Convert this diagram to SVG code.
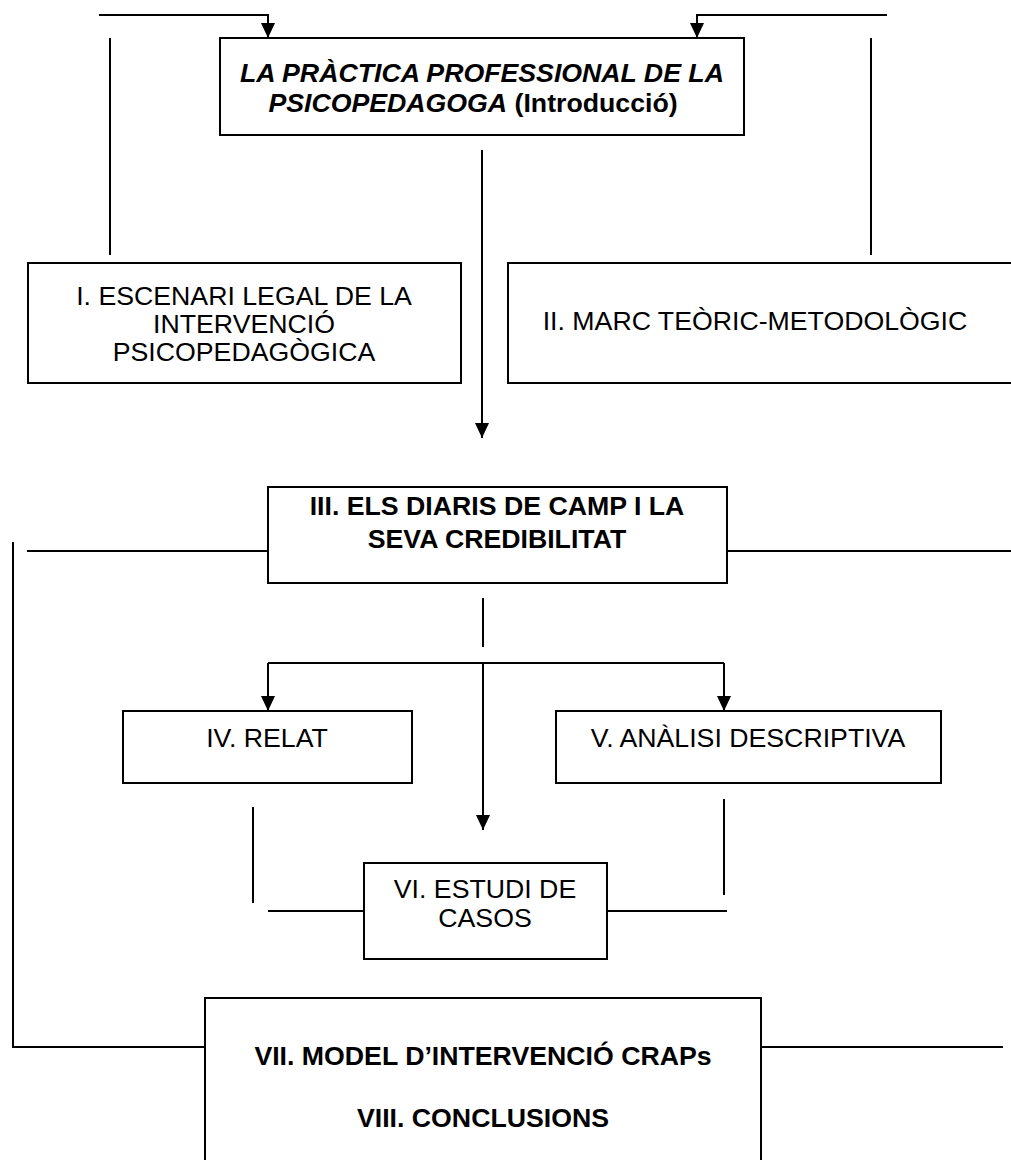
<svg xmlns="http://www.w3.org/2000/svg" width="1011" height="1160" viewBox="0 0 1011 1160">
  <style>
    .box { fill: #ffffff; stroke: #000000; stroke-width: 2; }
    .ln { fill: none; stroke: #000000; stroke-width: 2; }
    .t { font-family: "Liberation Sans", Arial, sans-serif; font-size: 26.7px; fill: #000000; text-anchor: middle; }
    .b { font-weight: bold; }
    .bi { font-weight: bold; font-style: italic; }
  </style>
  <defs>
    <marker id="arrow" viewBox="0 0 15 14" refX="15" refY="7" markerWidth="15" markerHeight="14" markerUnits="userSpaceOnUse" orient="auto">
      <path d="M0,0 L15,7 L0,14 z" fill="#000000"/>
    </marker>
  </defs>
  <rect width="1011" height="1160" fill="#ffffff"/>

  <!-- connectors -->
  <g id="connectors">
    <path class="ln" d="M99,15 H268 V38" marker-end="url(#arrow)"/>
    <path class="ln" d="M887,15 H697 V38" marker-end="url(#arrow)"/>
    <line class="ln" x1="110" y1="38" x2="110" y2="255"/>
    <line class="ln" x1="871" y1="38" x2="871" y2="255"/>
    <line class="ln" x1="482" y1="150" x2="482" y2="438" marker-end="url(#arrow)"/>
    <line class="ln" x1="27" y1="551" x2="268" y2="551"/>
    <line class="ln" x1="727" y1="551" x2="1011" y2="551"/>
    <line class="ln" x1="483" y1="598" x2="483" y2="647"/>
    <line class="ln" x1="268" y1="663" x2="724" y2="663"/>
    <line class="ln" x1="268" y1="663" x2="268" y2="711" marker-end="url(#arrow)"/>
    <line class="ln" x1="724" y1="663" x2="724" y2="711" marker-end="url(#arrow)"/>
    <line class="ln" x1="483" y1="663" x2="483" y2="830" marker-end="url(#arrow)"/>
    <line class="ln" x1="253" y1="807" x2="253" y2="903"/>
    <line class="ln" x1="724" y1="799" x2="724" y2="895"/>
    <line class="ln" x1="268" y1="911" x2="364" y2="911"/>
    <line class="ln" x1="607" y1="911" x2="727" y2="911"/>
    <path class="ln" d="M13,542 V1047 H205"/>
    <line class="ln" x1="761" y1="1047" x2="1003" y2="1047"/>
  </g>

  <!-- nodes -->
  <g id="node-intro">
    <rect class="box" x="220" y="38" width="524" height="97"/>
    <text class="t bi" x="482" y="81.5">LA PRÀCTICA PROFESSIONAL DE LA</text>
    <text class="t" x="473" y="111.5"><tspan class="bi">PSICOPEDAGOGA</tspan><tspan class="b"> (Introducció)</tspan></text>
  </g>

  <g id="node-i">
    <rect class="box" x="28" y="263" width="433" height="120"/>
    <text class="t" x="244" y="305">I. ESCENARI LEGAL DE LA</text>
    <text class="t" x="244" y="333">INTERVENCIÓ</text>
    <text class="t" x="244" y="361">PSICOPEDAGÒGICA</text>
  </g>

  <g id="node-ii">
    <rect class="box" x="508" y="263" width="510" height="120"/>
    <text class="t" x="755" y="330">II. MARC TEÒRIC-METODOLÒGIC</text>
  </g>

  <g id="node-iii">
    <rect class="box" x="268" y="487" width="459" height="96"/>
    <text class="t b" x="497" y="515">III. ELS DIARIS DE CAMP I LA</text>
    <text class="t b" x="497" y="548">SEVA CREDIBILITAT</text>
  </g>

  <g id="node-iv">
    <rect class="box" x="123" y="711" width="289" height="72"/>
    <text class="t" x="267" y="747">IV. RELAT</text>
  </g>

  <g id="node-v">
    <rect class="box" x="556" y="711" width="385" height="72"/>
    <text class="t" x="748" y="747">V. ANÀLISI DESCRIPTIVA</text>
  </g>

  <g id="node-vi">
    <rect class="box" x="364" y="863" width="243" height="96"/>
    <text class="t" x="485" y="898">VI. ESTUDI DE</text>
    <text class="t" x="485" y="927">CASOS</text>
  </g>

  <g id="node-vii">
    <rect class="box" x="205" y="998" width="556" height="180"/>
    <text class="t b" x="483" y="1065">VII. MODEL D’INTERVENCIÓ CRAPs</text>
    <text class="t b" x="483" y="1127">VIII. CONCLUSIONS</text>
  </g>
</svg>
